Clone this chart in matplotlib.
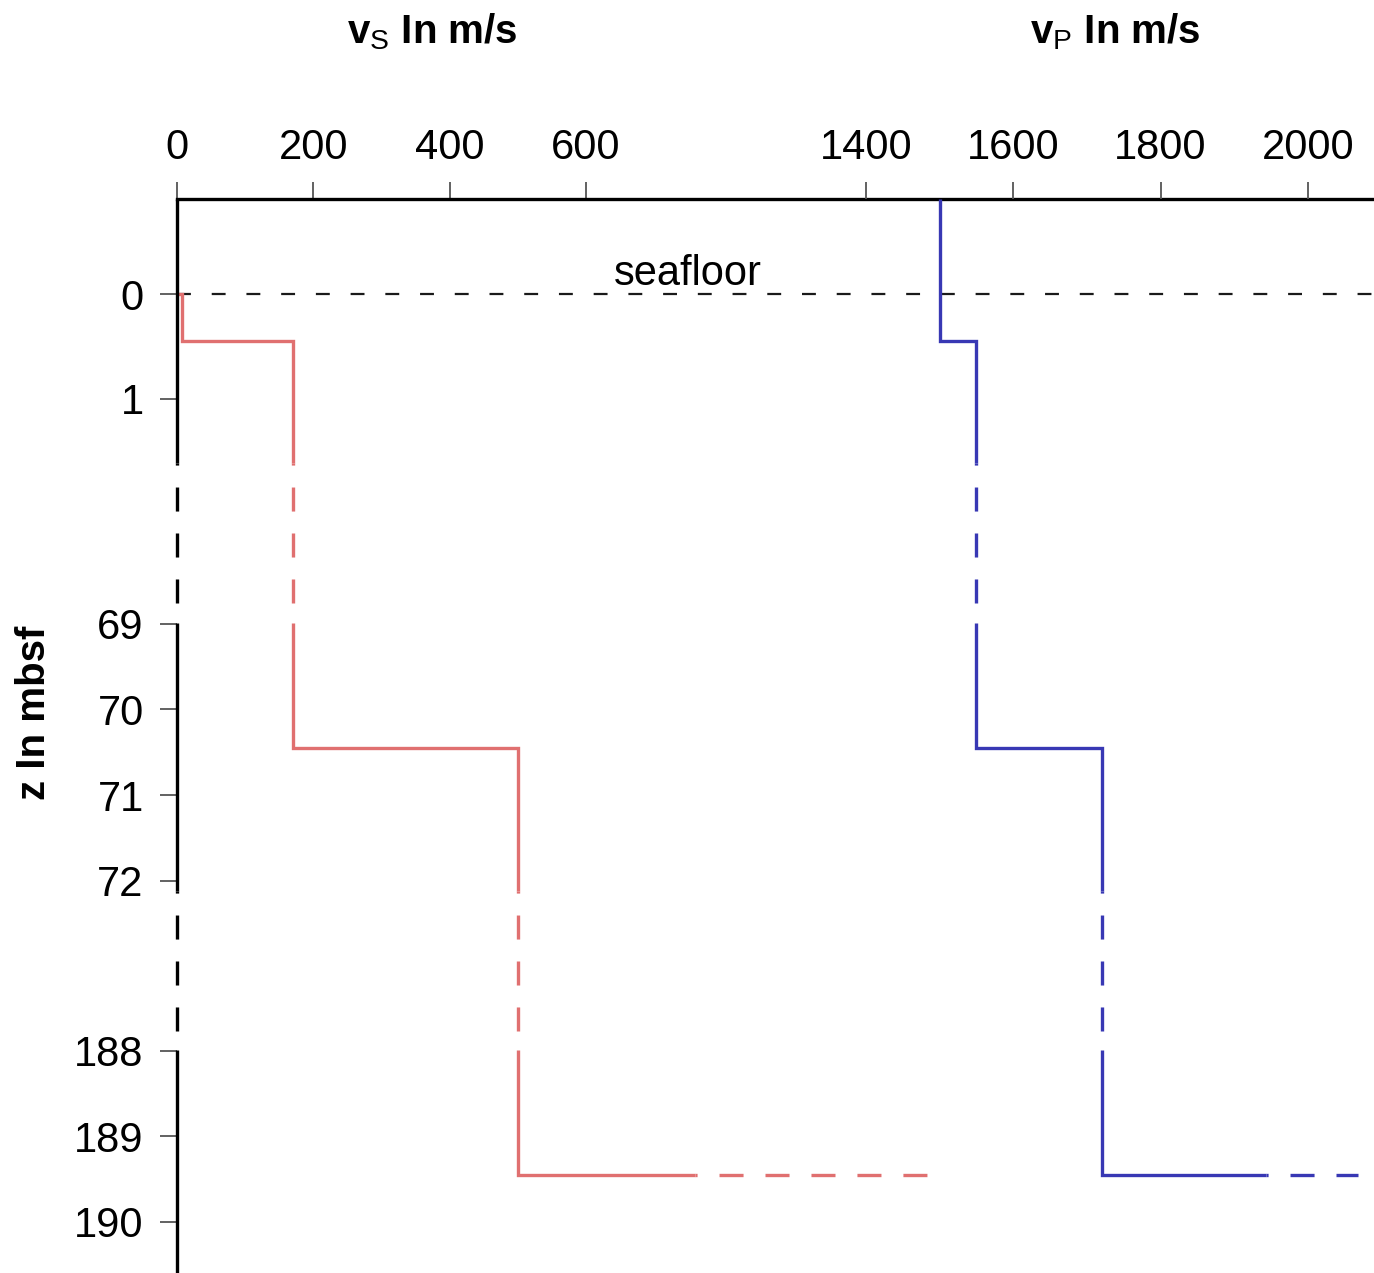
import numpy as np
import matplotlib.pyplot as plt

plt.rcParams['font.family'] = ['Liberation Sans', 'DejaVu Sans']
plt.rcParams['mathtext.fontset'] = 'custom'
plt.rcParams['mathtext.rm'] = 'Liberation Sans'
plt.rcParams['mathtext.bf'] = 'Liberation Sans:bold'
plt.rcParams['lines.scale_dashes'] = False

# layered velocity model (depth in m below seafloor)
z_interfaces = [0.45, 70.45, 189.45]
vs_layers = [7, 170, 500]
vp_layers = [1500, 1550, 1720]
vs_tail = [760, 1105]    # bottom half-space line: solid end, dashed end
vp_tail = [1943, 2068]

z_ticks = [0, 1, 69, 70, 71, 72, 188, 189, 190]
vs_ticks = [0, 200, 400, 600]
vp_ticks = [1400, 1600, 1800, 2000]

# broken depth axis: depth knots -> drawing position (px from top)
z_knots = [-0.906, 1.61, 68.99, 72.12, 187.99, 190.6]
pos_knots = [199, 463, 623, 891, 1050, 1273]
gaps = [(z_knots[1], z_knots[2]), (z_knots[3], z_knots[4])]

zk = np.array(z_knots)
pk = np.array(pos_knots, dtype=float)
s_top = (pk[1] - pk[0]) / (zk[1] - zk[0])
s_bot = (pk[-1] - pk[-2]) / (zk[-1] - zk[-2])
zk_ext = np.r_[zk[0] - 1e4, zk, zk[-1] + 1e4]
pk_ext = np.r_[pk[0] - 1e4 * s_top, pk, pk[-1] + 1e4 * s_bot]


def fwd(z):
    return np.interp(z, zk_ext, pk_ext)


def inv(p):
    return np.interp(p, pk_ext, zk_ext)


RED = '#e07070'
BLUE = '#3838b4'
LW = 2.4
GAP_DASH = (15.8, (17.3, 15.8))


def draw_broken(ax, xs, zs, color, lw, zorder=2, clip=True):
    # solid inside the depth segments, dashed across the axis breaks
    pieces = []
    for x0, z0, x1, z1 in zip(xs[:-1], zs[:-1], xs[1:], zs[1:]):
        lo, hi = min(z0, z1), max(z0, z1)
        cuts = [z0] + sorted(b for g in gaps for b in g if lo < b < hi) + [z1]
        for za, zb in zip(cuts[:-1], cuts[1:]):
            mid = 0.5 * (za + zb)
            in_gap = any(g0 < mid < g1 for g0, g1 in gaps)
            pieces.append(([x0, x1], [za, zb], in_gap))
    runs = []
    for px, pz, g in pieces:
        if runs and runs[-1][2] == g:
            runs[-1][0].append(px[1])
            runs[-1][1].append(pz[1])
        else:
            runs.append(([px[0], px[1]], [pz[0], pz[1]], g))
    for rx, rz, g in runs:
        kw = dict(color=color, lw=lw, zorder=zorder, clip_on=clip,
                  solid_capstyle='butt', solid_joinstyle='miter',
                  dash_capstyle='butt')
        ax.plot(rx, rz, ls=GAP_DASH if g else '-', **kw)


def profile(values, z_start):
    tops = [z_start] + z_interfaces[:-1]
    xs, zs = [], []
    for v, zt, zb in zip(values, tops, z_interfaces):
        xs += [v, v]
        zs += [zt, zb]
    return xs, zs


W, H = 1374, 1273
fig = plt.figure(figsize=(W / 100, H / 100), dpi=100)
ax_s = fig.add_axes([177 / W, 0, 1195 / W, 1074 / H])
ax_s.set_yscale('function', functions=(fwd, inv))
ax_p = ax_s.twiny()
ax_p.set_yscale('function', functions=(fwd, inv))
ax_s.set_ylim(z_knots[-1], z_knots[0])

ax_s.set_xlim(0, 1753)
ax_p.set_xlim(465, 2087)

# vs profile (starts at the seafloor)
xs, zs = profile(vs_layers, 0)
xs = [0] + xs + [vs_tail[0]]
zs = [0] + zs + [z_interfaces[-1]]
draw_broken(ax_s, xs, zs, RED, LW)
ax_s.plot(vs_tail, [z_interfaces[-1]] * 2, color=RED, lw=LW,
          ls=GAP_DASH, dash_capstyle='butt')

# vp profile (water column from the top of the plot)
xs, zs = profile(vp_layers, z_knots[0])
xs = xs + [vp_tail[0]]
zs = zs + [z_interfaces[-1]]
draw_broken(ax_p, xs, zs, BLUE, LW)
ax_p.plot(vp_tail, [z_interfaces[-1]] * 2, color=BLUE, lw=LW,
          ls=GAP_DASH, dash_capstyle='butt')

# depth axis line, broken like the profiles
draw_broken(ax_s, [0, 0], [z_knots[0], z_knots[-1]], 'black', LW,
            zorder=4, clip=False)

# seafloor
ax_s.axhline(0, color='#1a1a1a', lw=1.6, dashes=(10, 15), zorder=1)
ax_s.annotate('seafloor', xy=(749, 0), xytext=(0, 6.5),
              textcoords='offset points', ha='center', va='baseline',
              fontsize=30)

for sp in ['left', 'right', 'bottom']:
    ax_s.spines[sp].set_visible(False)
ax_s.spines['top'].set_linewidth(LW)
ax_s.spines['top'].set_color('black')
for sp in ax_p.spines.values():
    sp.set_visible(False)

ax_s.xaxis.tick_top()
ax_s.set_xticks(vs_ticks)
ax_p.set_xticks(vp_ticks)
ax_s.set_yticks(z_ticks)
ax_s.set_yticklabels([str(t) for t in z_ticks])
for a in (ax_s, ax_p):
    a.tick_params(axis='x', top=True, bottom=False, labeltop=True,
                  labelbottom=False, direction='out', length=12, width=1.3,
                  color='#555555', pad=10, labelsize=30)
ax_s.tick_params(axis='y', left=True, direction='out', length=12, width=1.3,
                 color='#555555', pad=12, labelsize=30)
ax_s.minorticks_off()

ax_s.set_ylabel('z In mbsf', fontsize=29, fontweight='bold')
ax_s.yaxis.set_label_coords(-0.104, 0.522)

ax_s.annotate(r'$\mathbf{v}_\mathrm{S}$ In m/s', xy=(374, 1 - 43 / H),
              xycoords=('data', 'figure fraction'), ha='center',
              va='baseline', fontsize=29, fontweight='bold',
              annotation_clip=False)
ax_p.annotate(r'$\mathbf{v}_\mathrm{P}$ In m/s', xy=(1738, 1 - 43 / H),
              xycoords=('data', 'figure fraction'), ha='center',
              va='baseline', fontsize=29, fontweight='bold',
              annotation_clip=False)

fig.savefig('out.png', dpi=100)
